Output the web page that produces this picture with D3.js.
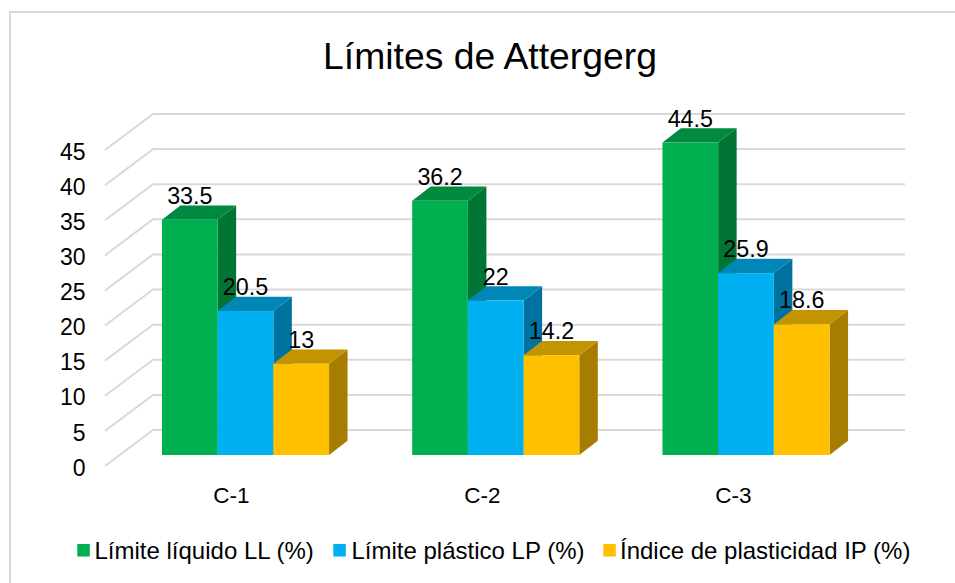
<!DOCTYPE html>
<html><head><meta charset="utf-8">
<script src="https://cdn.jsdelivr.net/npm/d3@7"></script>
<style>html,body{margin:0;padding:0;background:#fff}svg{display:block}text{font-family:"Liberation Sans",Arial,sans-serif;fill:#000}</style>
</head><body><svg id="c" width="955" height="583"></svg>
<script>
const categories=["C-1","C-2","C-3"];
const seriesNames=["Límite líquido LL (%)","Límite plástico LP (%)","Índice de plasticidad IP (%)"];
const limiteLiquido=[33.5,36.2,44.5];
const limitePlastico=[20.5,22,25.9];
const indicePlasticidad=[13,14.2,18.6];
const seriesValues=[limiteLiquido,limitePlastico,indicePlasticidad];
const faceColors=["#00B050","#00B0F0","#FFC000"];
const topColors=["#008A3F","#0087B8","#C49400"];
const sideColors=["#007534","#0072A0","#A67D00"];
const yTicks=[0,5,10,15,20,25,30,35,40,45];
const titleText="Límites de Attergerg";

const svg=d3.select("#c");
// frame: left and top edges only are visible in the crop
svg.append("path").attr("d","M10,583V12H955").attr("fill","none").attr("stroke","#d9d9d9").attr("stroke-width",2);
svg.append("text").attr("x",490).attr("y",69).attr("text-anchor","middle").attr("font-size",37.3).text(titleText);

const y=d3.scaleLinear().domain([0,45]).range([466,150]);
const barY=d3.scaleLinear().domain([0,45]).range([455,139]);
const x0=d3.scalePoint().domain(categories).range([245.5,746]);
const labelX=d3.scalePoint().domain(categories).range([231.5,733.5]);
const bw=55.7;
const xs=d3.scaleBand().domain(d3.range(3)).range([-bw*1.5,bw*1.5]);
const dBack={x:48,y:-36}, dBar={x:18.5,y:-14.3};

// wall gridlines
svg.append("g").attr("fill","none").attr("stroke","#d9d9d9").attr("stroke-width",2)
  .selectAll("path").data(yTicks).join("path")
  .attr("d",t=>`M105,${y(t)}L${105+dBack.x},${y(t)+dBack.y}H905`);

// y axis labels
svg.append("g").selectAll("text").data(yTicks).join("text")
  .attr("x",85.5).attr("y",t=>y(t)+9.7).attr("text-anchor","end").attr("font-size",23).text(t=>t);
// x axis labels
svg.append("g").selectAll("text").data(categories).join("text")
  .attr("x",d=>labelX(d)).attr("y",503).attr("text-anchor","middle").attr("font-size",22.5).text(d=>d);

// bars
categories.forEach((c,i)=>{
  const g=svg.append("g");
  seriesValues.forEach((vals,s)=>{
    const v=vals[i], l=x0(c)+xs(s), r=l+bw, t=barY(v), b=barY(0);
    g.append("path").attr("fill",sideColors[s]).attr("d",`M${r},${t}l${dBar.x},${dBar.y}V${b+dBar.y}L${r},${b}Z`);
    g.append("path").attr("fill",topColors[s]).attr("d",`M${l},${t}l${dBar.x},${dBar.y}h${bw}l${-dBar.x},${-dBar.y}Z`);
    g.append("rect").attr("x",l).attr("y",t).attr("width",bw).attr("height",b-t).attr("fill",faceColors[s]);
  });
  seriesValues.forEach((vals,s)=>{
    const v=vals[i], l=x0(c)+xs(s);
    g.append("text").attr("x",l+bw/2).attr("y",barY(v)-16).attr("text-anchor","middle")
      .attr("font-size",23.3).text(v);
  });
});

// legend
const legendSwatchX=d3.scaleOrdinal().domain(seriesNames).range([77.3,333.3,603.3]);
const legendTextX=d3.scaleOrdinal().domain(seriesNames).range([94.5,351.5,620]);
const lg=svg.append("g").selectAll("g").data(seriesNames).join("g");
lg.append("rect").attr("x",d=>legendSwatchX(d)).attr("y",544).attr("width",12.5).attr("height",12.5)
  .attr("fill",(d,i)=>faceColors[i]);
lg.append("text").attr("x",d=>legendTextX(d)).attr("y",558.5).attr("font-size",24).text(d=>d);
</script></body></html>
